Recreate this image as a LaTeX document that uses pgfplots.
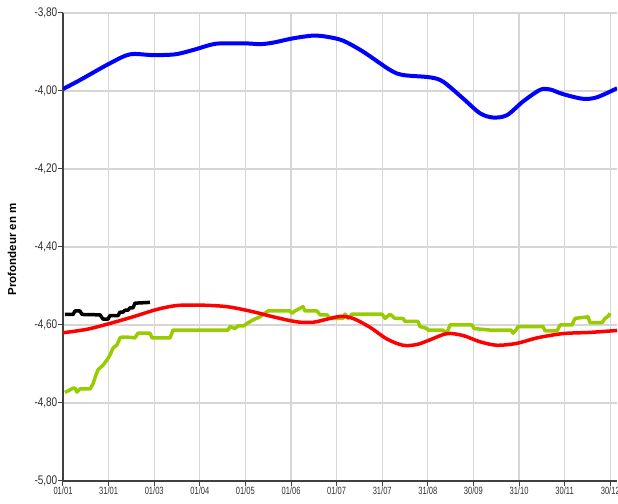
\documentclass[border=0pt]{standalone}
\usepackage{fontspec}
\setmainfont{Liberation Sans}
\newfontfamily\ynarrow[FakeStretch=0.8]{Liberation Sans}
\newfontfamily\xnarrow[FakeStretch=0.72]{Liberation Sans}
\usepackage{pgfplots}
\pgfplotsset{compat=1.18}
\definecolor{cgreen}{HTML}{99CC00}
\definecolor{cgrid}{HTML}{D6D6D6}
\definecolor{caxis}{HTML}{404040}
\definecolor{ctext}{HTML}{303030}
\begin{document}
\begin{tikzpicture}
\begin{axis}[
  at={(0,0)}, anchor=south west,
  scale only axis, width=554pt, height=468pt,
  xmin=0, xmax=369.5, ymin=-5, ymax=-3.8,
  axis x line*=bottom, axis y line*=left,
  axis line style={caxis, line width=1.3pt, -},
  xtick={0,30.417,60.833,91.25,121.667,152.083,182.5,212.917,243.333,273.75,304.167,334.583,365},
  xticklabels={01/01,31/01,01/03,01/04,01/05,01/06,01/07,31/07,31/08,30/09,31/10,30/11,30/12},
  ytick={-5,-4.8,-4.6,-4.4,-4.2,-4,-3.8},
  yticklabel style={/pgf/number format/use comma, /pgf/number format/fixed, /pgf/number format/fixed zerofill, /pgf/number format/precision=2, /pgf/number format/assume math mode=true},
  yticklabel style={font=\fontsize{12.5}{13}\ynarrow, text=ctext, inner sep=1pt},
  xticklabel style={font=\fontsize{10.5}{11}\xnarrow, text=ctext, inner sep=1pt, yshift=-0.5pt},
  tick align=outside, major tick length=4.5pt,
  tick style={caxis, line width=1pt},
  grid=major, major grid style={cgrid, line width=1.3pt},
  ylabel={Profondeur en m},
  ylabel style={at={(axis description cs:-0.092,0.495)}, anchor=center, font=\fontsize{11.5}{12}\selectfont\bfseries},
  clip=true,
]
% green series
\addplot[cgreen, line width=3.5pt, line join=round] coordinates {
(1.3,-4.773)(6.7,-4.762)(8.0,-4.762)(9.3,-4.772)(11.3,-4.764)(18.0,-4.764)(20.0,-4.751)
(22.0,-4.728)(23.3,-4.715)(26.7,-4.703)(29.3,-4.690)(31.3,-4.677)(33.4,-4.659)(36.0,-4.651)
(38.0,-4.633)(39.4,-4.631)(42.7,-4.631)(48.0,-4.633)(50.0,-4.621)(58.0,-4.621)(59.4,-4.633)
(71.4,-4.633)(73.4,-4.613)(110.1,-4.613)(111.4,-4.604)(114.7,-4.609)(116.7,-4.602)(120.7,-4.602)
(122.7,-4.596)(126.7,-4.587)(131.4,-4.579)(134.7,-4.570)(136.7,-4.564)(151.4,-4.564)(152.7,-4.570)
(154.7,-4.564)(160.1,-4.553)(161.4,-4.564)(169.4,-4.564)(171.4,-4.574)(176.1,-4.574)(178.1,-4.583)
(186.8,-4.583)(188.1,-4.572)(190.1,-4.583)(192.8,-4.572)(212.8,-4.572)(214.8,-4.583)(218.1,-4.572)
(221.4,-4.583)(226.8,-4.583)(228.1,-4.591)(236.8,-4.591)(238.1,-4.604)(242.8,-4.609)(243.5,-4.613)
(253.5,-4.613)(254.8,-4.621)(256.8,-4.613)(258.1,-4.600)(272.8,-4.600)(274.1,-4.609)(284.8,-4.613)
(298.8,-4.613)(300.1,-4.621)(302.1,-4.613)(303.5,-4.604)(320.2,-4.604)(321.5,-4.615)(329.5,-4.615)
(331.5,-4.600)(339.5,-4.600)(341.5,-4.583)(350.2,-4.579)(351.5,-4.594)(359.5,-4.594)(361.5,-4.583)
(363.5,-4.578)(364.9,-4.570)
};
% red series
\addplot[red, line width=3.5pt, smooth, tension=0.5] coordinates {
(0,-4.620)(16,-4.611)(31.3,-4.596)(46.7,-4.579)(62.7,-4.560)(76,-4.550)(91.4,-4.549)
(109.4,-4.553)(126.7,-4.566)(140.1,-4.579)(156.1,-4.592)(166.8,-4.593)(176.1,-4.585)
(185,-4.578)(193.4,-4.583)(204.8,-4.606)(216.1,-4.636)(226.8,-4.652)(236.1,-4.650)
(244.8,-4.638)(256.1,-4.622)(266.8,-4.627)(278.1,-4.643)(289.5,-4.652)(302.8,-4.647)
(316.2,-4.633)(333.5,-4.622)(351.5,-4.619)(369.5,-4.614)
};
% black series
\addplot[black, line width=3.5pt, line join=round] coordinates {
(1.3,-4.573)(6.7,-4.573)(8.0,-4.564)(11.3,-4.564)(12.7,-4.573)(24.7,-4.574)(26.7,-4.585)
(30,-4.585)(31.3,-4.576)(36.7,-4.576)(38,-4.567)(40,-4.567)(41.4,-4.562)(43.4,-4.562)
(44.7,-4.556)(46.7,-4.556)(48,-4.544)(58.0,-4.542)
};
% blue series
\addplot[blue, line width=4pt, smooth, tension=0.5] coordinates {
(0,-3.995)(11.3,-3.972)(31.3,-3.929)(44.7,-3.906)(60,-3.908)(74.7,-3.906)(86.7,-3.895)
(98,-3.882)(104.7,-3.878)(122.7,-3.878)(131.4,-3.880)(140.1,-3.876)(153.4,-3.865)
(166.8,-3.858)(176.1,-3.861)(186.8,-3.871)(200.1,-3.899)(218.1,-3.946)(226.8,-3.959)
(244.8,-3.965)(253.5,-3.976)(266.8,-4.019)(278.1,-4.057)(286.8,-4.068)(296.1,-4.062)
(306.8,-4.027)(318.2,-3.997)(324.8,-3.996)(333.5,-4.008)(346.8,-4.020)(356.2,-4.016)
(369.5,-3.993)
};
\end{axis}
\pgfresetboundingbox
\path[use as bounding box] (-63pt,-22pt) rectangle (555pt,481pt);
\end{tikzpicture}
\end{document}
